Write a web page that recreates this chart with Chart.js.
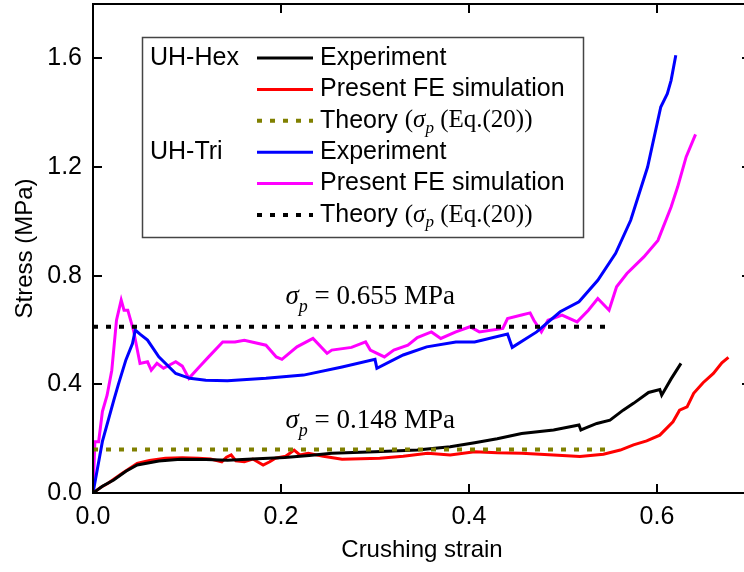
<!DOCTYPE html>
<html>
<head>
<meta charset="utf-8">
<script src="https://cdn.jsdelivr.net/npm/chart.js@4.4.1/dist/chart.umd.min.js"></script>
<style>
  html, body { margin: 0; padding: 0; background: #fff; overflow: hidden; }
  #wrap { width: 744px; height: 572px; overflow: hidden; }
</style>
</head>
<body>
<div id="wrap"><canvas id="stressChart" width="760" height="572"></canvas></div>
<script>
// UH-Hex experiment
const hexExpStrain = [0, 0.01, 0.022, 0.035, 0.047, 0.07, 0.093, 0.12, 0.143, 0.175, 0.204, 0.23, 0.254, 0.3, 0.345, 0.38, 0.406, 0.43, 0.456, 0.49, 0.517, 0.519, 0.523, 0.536, 0.55, 0.564, 0.575, 0.591, 0.603, 0.605, 0.615, 0.6255];
const hexExpStress = [0, 0.025, 0.048, 0.08, 0.103, 0.118, 0.124, 0.123, 0.121, 0.126, 0.131, 0.138, 0.146, 0.152, 0.158, 0.17, 0.185, 0.2, 0.219, 0.232, 0.25, 0.232, 0.238, 0.256, 0.268, 0.305, 0.33, 0.37, 0.381, 0.36, 0.42, 0.477];

// UH-Hex FE simulation
const hexFeStrain = [0, 0.008, 0.016, 0.03, 0.047, 0.06, 0.077, 0.095, 0.112, 0.125, 0.137, 0.142, 0.147, 0.152, 0.161, 0.17, 0.181, 0.188, 0.194, 0.205, 0.214, 0.22, 0.229, 0.245, 0.265, 0.285, 0.305, 0.33, 0.356, 0.38, 0.406, 0.43, 0.456, 0.49, 0.518, 0.543, 0.561, 0.575, 0.589, 0.603, 0.617, 0.624, 0.632, 0.639, 0.649, 0.66, 0.669, 0.676];
const hexFeStress = [0, 0.02, 0.036, 0.07, 0.109, 0.12, 0.128, 0.13, 0.128, 0.125, 0.115, 0.132, 0.14, 0.118, 0.115, 0.125, 0.103, 0.115, 0.128, 0.135, 0.158, 0.14, 0.146, 0.135, 0.124, 0.126, 0.128, 0.135, 0.146, 0.14, 0.152, 0.148, 0.146, 0.14, 0.134, 0.143, 0.158, 0.177, 0.192, 0.213, 0.262, 0.305, 0.317, 0.367, 0.406, 0.44, 0.479, 0.499];

// UH-Tri experiment
const triExpStrain = [0, 0.01, 0.022, 0.027, 0.035, 0.042, 0.045, 0.05, 0.058, 0.07, 0.088, 0.103, 0.12, 0.143, 0.184, 0.224, 0.265, 0.3, 0.302, 0.33, 0.355, 0.386, 0.406, 0.441, 0.446, 0.472, 0.497, 0.517, 0.537, 0.556, 0.572, 0.59, 0.604, 0.611, 0.615, 0.62];
const triExpStress = [0, 0.19, 0.34, 0.4, 0.49, 0.55, 0.6, 0.585, 0.563, 0.501, 0.44, 0.422, 0.415, 0.413, 0.422, 0.434, 0.464, 0.492, 0.459, 0.508, 0.538, 0.556, 0.556, 0.585, 0.536, 0.593, 0.667, 0.704, 0.783, 0.882, 1.004, 1.2, 1.421, 1.47, 1.519, 1.611];

// UH-Tri FE simulation
const triFeStrain = [0, 0.002, 0.006, 0.01, 0.015, 0.02, 0.025, 0.03, 0.033, 0.037, 0.043, 0.05, 0.058, 0.062, 0.068, 0.075, 0.088, 0.095, 0.102, 0.113, 0.123, 0.138, 0.151, 0.161, 0.184, 0.195, 0.201, 0.217, 0.234, 0.249, 0.254, 0.275, 0.29, 0.295, 0.31, 0.32, 0.335, 0.345, 0.36, 0.37, 0.386, 0.401, 0.411, 0.436, 0.441, 0.456, 0.465, 0.469, 0.477, 0.484, 0.499, 0.515, 0.527, 0.537, 0.549, 0.557, 0.568, 0.586, 0.601, 0.615, 0.622, 0.631, 0.641];
const triFeStress = [0, 0.189, 0.189, 0.3, 0.36, 0.452, 0.636, 0.71, 0.673, 0.673, 0.6, 0.477, 0.483, 0.452, 0.477, 0.459, 0.483, 0.467, 0.422, 0.464, 0.501, 0.556, 0.556, 0.562, 0.544, 0.501, 0.492, 0.538, 0.569, 0.514, 0.526, 0.536, 0.556, 0.526, 0.501, 0.526, 0.544, 0.572, 0.593, 0.569, 0.593, 0.612, 0.593, 0.606, 0.642, 0.655, 0.663, 0.636, 0.593, 0.636, 0.655, 0.63, 0.673, 0.716, 0.673, 0.759, 0.808, 0.869, 0.93, 1.053, 1.127, 1.237, 1.32];

// theory plateau stress lines
const theoryStrain = [0, 0.545];
const triTheoryStress = [0.612, 0.612];
const hexTheoryStress = [0.16, 0.16];

const xTickValues = [0, 0.2, 0.4, 0.6];
const yTickValues = [0, 0.4, 0.8, 1.2, 1.6];

const SANS = '"Liberation Sans", Arial, sans-serif';
const SERIF = '"Liberation Serif", "Times New Roman", serif';

function toPoints(xs, ys) {
  return xs.map((x, i) => ({ x: x, y: ys[i] }));
}

// draws a run of text pieces (font / vertical shift) one after another
function drawRich(ctx, parts, x, y, align) {
  let total = 0;
  parts.forEach(p => { ctx.font = p.font; total += ctx.measureText(p.text).width; });
  let cx = align === 'center' ? x - total / 2 : x;
  parts.forEach(p => {
    ctx.font = p.font;
    ctx.fillText(p.text, cx, y + (p.dy || 0));
    cx += ctx.measureText(p.text).width;
  });
}

function sigmaParts(size, before, after) {
  return [
    { text: before, font: size + 'px ' + SERIF },
    { text: 'σ', font: 'italic ' + size + 'px ' + SERIF },
    { text: 'p', font: 'italic ' + Math.round(size * 0.68) + 'px ' + SERIF, dy: size * 0.3 },
    { text: after, font: size + 'px ' + SERIF }
  ];
}

// frame + inward ticks on all four sides
const framePlugin = {
  id: 'frame',
  afterDatasetsDraw(chart) {
    const ctx = chart.ctx;
    const a = chart.chartArea;
    const sx = chart.scales.x, sy = chart.scales.y;
    const len = 9;
    ctx.save();
    ctx.strokeStyle = '#000';
    ctx.lineWidth = 2;
    ctx.beginPath();
    ctx.rect(a.left, a.top, a.right - a.left, a.bottom - a.top);
    ctx.stroke();
    ctx.beginPath();
    xTickValues.forEach(v => {
      const px = Math.round(sx.getPixelForValue(v));
      ctx.moveTo(px, a.bottom); ctx.lineTo(px, a.bottom - len);
      ctx.moveTo(px, a.top); ctx.lineTo(px, a.top + len);
    });
    yTickValues.forEach(v => {
      const py = Math.round(sy.getPixelForValue(v));
      ctx.moveTo(a.left, py); ctx.lineTo(a.left + len, py);
      ctx.moveTo(a.right, py); ctx.lineTo(a.right - len, py);
    });
    ctx.stroke();
    ctx.restore();
  }
};

// sigma_p labels and the boxed legend
const notesPlugin = {
  id: 'notes',
  afterDraw(chart) {
    const ctx = chart.ctx;
    const sx = chart.scales.x, sy = chart.scales.y;
    ctx.save();
    ctx.fillStyle = '#000';
    ctx.textBaseline = 'alphabetic';
    drawRich(ctx, sigmaParts(27, '', ' = 0.655 MPa'), sx.getPixelForValue(0.295), sy.getPixelForValue(0.695), 'center');
    drawRich(ctx, sigmaParts(27, '', ' = 0.148 MPa'), sx.getPixelForValue(0.295), sy.getPixelForValue(0.24), 'center');

    // legend box
    const ds = chart.data.datasets;
    ctx.fillStyle = '#fff';
    ctx.fillRect(142, 37, 441, 200);
    ctx.strokeStyle = '#444';
    ctx.lineWidth = 1.5;
    ctx.strokeRect(142.5, 37.5, 441, 200);

    const rows = [
      { group: 'UH-Hex', ds: 2 },
      { ds: 3 },
      { ds: 1, theory: true },
      { group: 'UH-Tri', ds: 4 },
      { ds: 5 },
      { ds: 0, theory: true }
    ];
    ctx.textBaseline = 'middle';
    rows.forEach((r, i) => {
      const y = 58 + i * 31.4;
      const d = ds[r.ds];
      ctx.fillStyle = '#000';
      if (r.group) {
        ctx.font = '25px ' + SANS;
        ctx.fillText(r.group, 150, y);
      }
      ctx.save();
      ctx.strokeStyle = d.borderColor;
      ctx.lineWidth = d.borderWidth;
      ctx.setLineDash(d.borderDash || []);
      ctx.beginPath();
      ctx.moveTo(257, y); ctx.lineTo(313, y);
      ctx.stroke();
      ctx.restore();
      if (r.theory) {
        drawRich(ctx, [{ text: 'Theory ', font: '25px ' + SANS }].concat(sigmaParts(25, '(', ' (Eq.(20))')), 320, y, 'left');
      } else {
        ctx.font = '25px ' + SANS;
        ctx.fillText(d.label, 320, y);
      }
    });
    ctx.restore();
  }
};

const ctx = document.getElementById('stressChart').getContext('2d');
const chart = new Chart(ctx, {
  type: 'line',
  data: {
    datasets: [{
      label: 'Theory UH-Tri',
      data: toPoints(theoryStrain, triTheoryStress),
      borderColor: '#000000',
      borderWidth: 4,
      borderDash: [5, 8]
    }, {
      label: 'Theory UH-Hex',
      data: toPoints(theoryStrain, hexTheoryStress),
      borderColor: '#808000',
      borderWidth: 4,
      borderDash: [5, 8]
    }, {
      label: 'Experiment',
      data: toPoints(hexExpStrain, hexExpStress),
      borderColor: '#000000',
      borderWidth: 3
    }, {
      label: 'Present FE simulation',
      data: toPoints(hexFeStrain, hexFeStress),
      borderColor: '#ff0000',
      borderWidth: 3
    }, {
      label: 'Experiment',
      data: toPoints(triExpStrain, triExpStress),
      borderColor: '#0000ff',
      borderWidth: 3
    }, {
      label: 'Present FE simulation',
      data: toPoints(triFeStrain, triFeStress),
      borderColor: '#ff00ff',
      borderWidth: 3
    }]
  },
  options: {
    responsive: false,
    devicePixelRatio: 1,
    animation: false,
    elements: {
      point: { radius: 0 },
      line: { tension: 0, fill: false, borderCapStyle: 'butt' }
    },
    layout: { padding: { left: 0, top: 4, right: 9, bottom: 0 } },
    plugins: {
      legend: { display: false },
      tooltip: { enabled: false }
    },
    scales: {
      x: {
        type: 'linear',
        min: 0,
        max: 0.7,
        afterFit: s => { s.height = 79; s.paddingLeft = 0; s.paddingRight = 0; },
        grid: { display: false, drawTicks: false },
        border: { display: false },
        ticks: {
          stepSize: 0.2,
          includeBounds: false,
          padding: 9,
          color: '#000',
          font: { family: SANS, size: 25 },
          callback: v => v.toFixed(1)
        },
        title: {
          display: true,
          text: 'Crushing strain',
          color: '#000',
          font: { family: SANS, size: 24 },
          padding: { top: 0, bottom: 7 }
        }
      },
      y: {
        type: 'linear',
        min: 0,
        max: 1.8,
        afterFit: s => { s.width = 93; s.paddingTop = 0; s.paddingBottom = 0; },
        grid: { display: false, drawTicks: false },
        border: { display: false },
        ticks: {
          stepSize: 0.4,
          includeBounds: false,
          padding: 11,
          color: '#000',
          font: { family: SANS, size: 25 },
          callback: v => v.toFixed(1)
        },
        title: {
          display: true,
          text: 'Stress (MPa)',
          color: '#000',
          font: { family: SANS, size: 24 },
          padding: { top: 11, bottom: 0 }
        }
      }
    }
  },
  plugins: [framePlugin, notesPlugin]
});
</script>
</body>
</html>
